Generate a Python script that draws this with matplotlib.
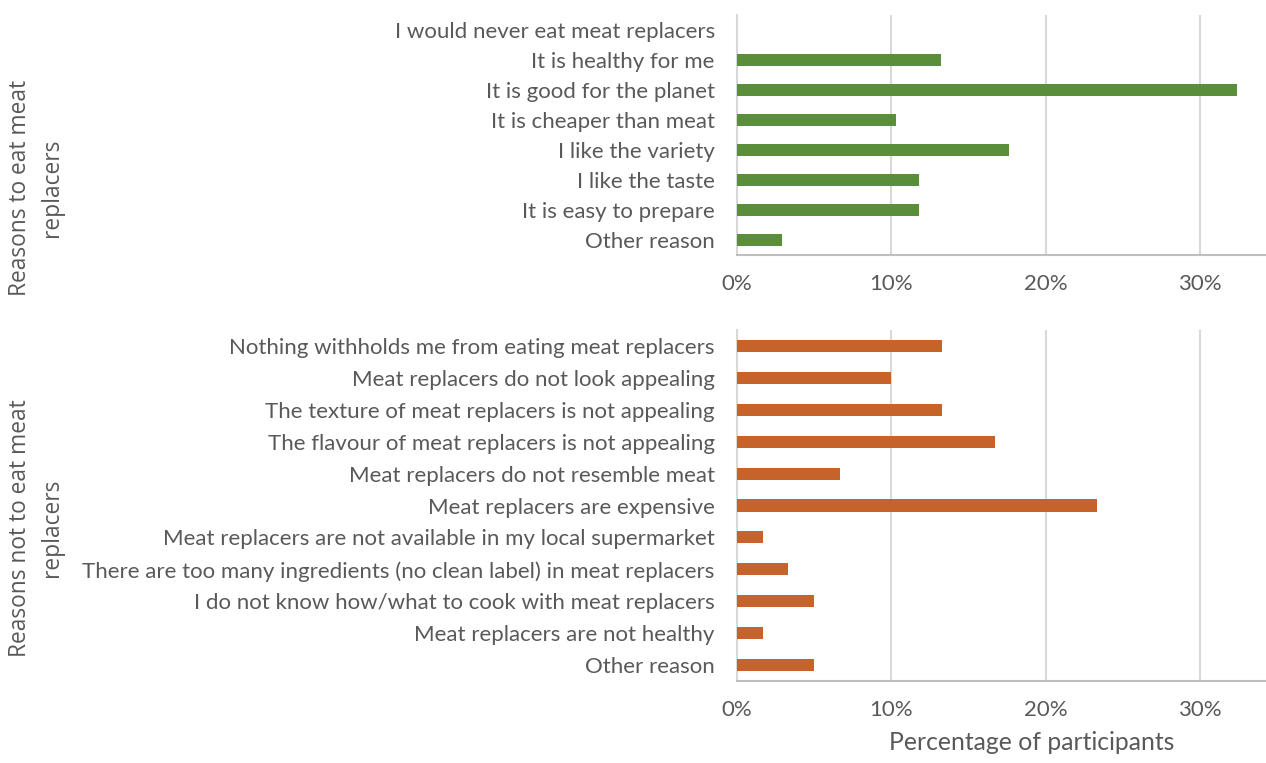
import matplotlib
matplotlib.use("Agg")
import matplotlib.pyplot as plt
from matplotlib.ticker import PercentFormatter

top_labels = ["I would never eat meat replacers", "It is healthy for me", "It is good for the planet",
              "It is cheaper than meat", "I like the variety", "I like the taste",
              "It is easy to prepare", "Other reason"]
top_values = [0.0, 13.2, 32.4, 10.3, 17.6, 11.8, 11.8, 2.9]

bot_labels = ["Nothing withholds me from eating meat replacers", "Meat replacers do not look appealing",
              "The texture of meat replacers is not appealing", "The flavour of meat replacers is not appealing",
              "Meat replacers do not resemble meat", "Meat replacers are expensive",
              "Meat replacers are not available in my local supermarket",
              "There are too many ingredients (no clean label) in meat replacers",
              "I do not know how/what to cook with meat replacers", "Meat replacers are not healthy",
              "Other reason"]
bot_values = [13.3, 10.0, 13.3, 16.7, 6.7, 23.3, 1.7, 3.3, 5.0, 1.7, 5.0]

xticks = [0, 10, 20, 30]
top_ylabel = "Reasons to eat meat\nreplacers"
bot_ylabel = "Reasons not to eat meat\nreplacers"
xlabel = "Percentage of participants"

W, H = 1266, 763
fig = plt.figure(figsize=(W / 100, H / 100), dpi=100)
txt = "#595959"
tick_font = "Lato"

def make_ax(rect, labels, values, color, height):
    ax = fig.add_axes(rect)
    y = list(range(len(labels)))
    ax.barh(y, values, height=height, color=color, zorder=3)
    ax.set_yticks(y)
    ax.set_yticklabels(labels, fontsize=16, color=txt, family=tick_font)
    ax.set_ylim(len(labels) - 0.5, -0.5)
    ax.set_xlim(0, 34.2)
    ax.set_xticks(xticks)
    ax.xaxis.set_major_formatter(PercentFormatter(decimals=0))
    for lab in ax.get_xticklabels():
        lab.set_fontsize(16)
        lab.set_color(txt)
        lab.set_family(tick_font)
    ax.tick_params(axis="both", length=0)
    ax.tick_params(axis="y", pad=16)
    ax.tick_params(axis="x", pad=13.5)
    ax.grid(axis="x", color="#D9D9D9", linewidth=1.5, zorder=0)
    for s in ["top", "right"]:
        ax.spines[s].set_visible(False)
    ax.spines["left"].set_color("#D9D9D9")
    ax.spines["left"].set_linewidth(1.5)
    ax.spines["bottom"].set_color("#BFBFBF")
    ax.spines["bottom"].set_linewidth(1.5)
    return ax

def rect(x0, y0, x1, y1):
    return [x0 / W, 1 - y1 / H, (x1 - x0) / W, (y1 - y0) / H]

ax1 = make_ax(rect(737, 15, 1265, 255), top_labels, top_values, "#5B8E3A", 0.4)
ax2 = make_ax(rect(737, 330, 1265, 681), bot_labels, bot_values, "#C5632A", 0.38)

fig.text(36 / W, 1 - 188 / H, top_ylabel, rotation=90, ha="center", va="center",
         fontsize=16.4, color=txt, family="Open Sans", linespacing=1.45)
fig.text(36 / W, 1 - 528 / H, bot_ylabel, rotation=90, ha="center", va="center",
         fontsize=16.4, color=txt, family="Open Sans", linespacing=1.45)
fig.text(1032 / W, 1 - 743 / H, xlabel, ha="center", va="center",
         fontsize=17.8, color=txt, family=tick_font)

fig.savefig("out.png", dpi=100, facecolor="white")
